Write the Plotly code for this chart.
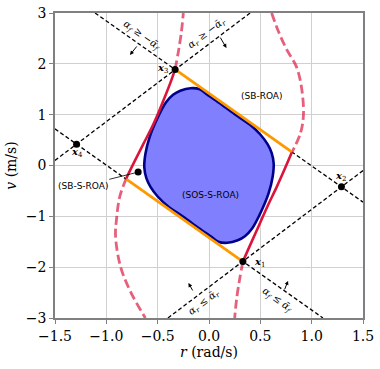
import plotly.graph_objects as go

# corner points x1..x4
pts_r = [0.33, 1.29, -0.33, -1.29]
pts_v = [-1.89, -0.42, 1.89, 0.42]
pts_lbl = ['1', '2', '3', '4']

# dashed constraint lines (end points at plot edges)
lines_r = [[-1.11, 1.5], [-1.5, 1.11], [-1.5, 0.40], [-0.40, 1.5]]
lines_v = [[3.0, -0.72], [0.72, -3.0], [0.10, 3.0], [-3.0, -0.10]]

# SB-ROA (orange edges)
orange_r = [[-0.33, 0.805], [-0.805, 0.33]]
orange_v = [[1.89, 0.27], [-0.27, -1.89]]

# crimson boundary, solid parts
right_solid_r = [0.805, 0.735, 0.66, 0.57, 0.46, 0.38, 0.33]
right_solid_v = [0.25, -0.08, -0.42, -0.80, -1.30, -1.66, -1.89]
left_solid_r = [-0.33, -0.37, -0.44, -0.54, -0.64, -0.73, -0.805]
left_solid_v = [1.89, 1.66, 1.30, 0.82, 0.42, 0.06, -0.25]

# crimson boundary, dashed parts
right_up_r = [0.61, 0.68, 0.76, 0.85, 0.90, 0.92, 0.89, 0.805]
right_up_v = [3.0, 2.62, 2.27, 1.95, 1.55, 1.0, 0.63, 0.25]
right_dn_r = [0.33, 0.30, 0.27, 0.25]
right_dn_v = [-1.89, -2.22, -2.61, -3.0]
left_dn_r = [-0.805, -0.87, -0.90, -0.91, -0.86, -0.76, -0.62]
left_dn_v = [-0.25, -0.62, -1.04, -1.40, -2.00, -2.50, -3.0]
left_up_r = [-0.33, -0.30, -0.27, -0.25]
left_up_v = [1.89, 2.22, 2.61, 3.0]

# SOS-S-ROA boundary
blue_r = [-0.18, -0.09, -0.02, 0.10, 0.25, 0.40, 0.50, 0.57, 0.61, 0.63, 0.62, 0.58, 0.50,
          0.42, 0.35, 0.28, 0.18, 0.09, 0.02, -0.10, -0.25, -0.40, -0.50, -0.57, -0.61,
          -0.63, -0.62, -0.58, -0.50, -0.42, -0.35, -0.28, -0.18]
blue_v = [1.52, 1.50, 1.40, 1.23, 1.01, 0.80, 0.61, 0.42, 0.25, 0.04, -0.22, -0.55, -0.94,
          -1.24, -1.39, -1.47, -1.52, -1.50, -1.40, -1.23, -1.01, -0.80, -0.61, -0.42, -0.25,
          -0.04, 0.22, 0.55, 0.94, 1.24, 1.39, 1.47, 1.52]

sbs_pt = (-0.69, -0.13)

CRIMSON = '#DC143C'
PINK = 'rgba(220,20,60,0.68)'
ORANGE = '#FF9900'

fig = go.Figure()

for lr, lv in zip(lines_r, lines_v):
    fig.add_trace(go.Scatter(x=lr, y=lv, mode='lines',
                             line=dict(color='black', width=1.3, dash='4px,2.5px')))

for cr, cv in [(right_up_r, right_up_v), (right_dn_r, right_dn_v),
               (left_dn_r, left_dn_v), (left_up_r, left_up_v)]:
    fig.add_trace(go.Scatter(x=cr, y=cv, mode='lines',
                             line=dict(color=PINK, width=2.8, dash='9px,4px', shape='spline')))

fig.add_trace(go.Scatter(x=blue_r, y=blue_v, mode='lines', fill='toself',
                         fillcolor='#8080FF',
                         line=dict(color='#00008B', width=2.6, shape='spline', smoothing=0.9)))

for orr, ov in zip(orange_r, orange_v):
    fig.add_trace(go.Scatter(x=orr, y=ov, mode='lines',
                             line=dict(color=ORANGE, width=2.8)))

for cr, cv in [(right_solid_r, right_solid_v), (left_solid_r, left_solid_v)]:
    fig.add_trace(go.Scatter(x=cr, y=cv, mode='lines',
                             line=dict(color=CRIMSON, width=2.6, shape='spline')))

fig.add_trace(go.Scatter(x=pts_r + [sbs_pt[0]], y=pts_v + [sbs_pt[1]], mode='markers',
                         marker=dict(color='black', size=7)))

serif = 'DejaVu Serif'
sans = 'DejaVu Sans'

# point labels
lbl_pos = [(0.49, -1.90), (1.285, -0.22), (-0.45, 1.90), (-1.285, 0.25)]
for (lx, ly), n in zip(lbl_pos, pts_lbl):
    fig.add_annotation(x=lx, y=ly, text='<b><i>x</i></b><sub>' + n + '</sub>',
                       showarrow=False, font=dict(family=serif, size=10, color='black'))

# region labels
fig.add_annotation(x=0.52, y=1.37, text='(SB-ROA)', showarrow=False,
                   font=dict(family=sans, size=9, color='black'))
fig.add_annotation(x=0.01, y=-0.58, text='(SOS-S-ROA)', showarrow=False,
                   font=dict(family=sans, size=9, color='black'))
fig.add_annotation(x=sbs_pt[0], y=sbs_pt[1], ax=-1.225, ay=-0.40, axref='x', ayref='y',
                   text='(SB-S-ROA)', showarrow=True, arrowhead=0, arrowwidth=0.8,
                   arrowcolor='black', standoff=0,
                   font=dict(family=sans, size=9, color='black'))

# constraint labels
cons = [
    (-0.66, 2.55, 35.5, '<i>α<sub>f</sub></i> ≥ −<i>ᾱ<sub>f</sub></i>'),
    (-0.02, 2.59, -37, '<i>α<sub>r</sub></i> ≥ −<i>ᾱ<sub>r</sub></i>'),
    (-0.05, -2.69, -37, '<i>α<sub>r</sub></i> ≤ <i>ᾱ<sub>r</sub></i>'),
    (0.67, -2.65, 35.5, '<i>α<sub>f</sub></i> ≤ <i>ᾱ<sub>f</sub></i>'),
]
for cx, cy, ang, t in cons:
    fig.add_annotation(x=cx, y=cy, text=t, textangle=ang, showarrow=False,
                       font=dict(family=serif, size=10, color='black'))

arrows = [(-0.77, 2.175, 8, -10), (0.17, 2.31, -7, -12), (-0.20, -2.31, 5, 9), (0.77, -2.27, -4, 10)]
for hx, hy, ox, oy in arrows:
    fig.add_annotation(x=hx, y=hy, ax=ox, ay=oy, text='', showarrow=True,
                       arrowhead=2, arrowsize=0.8, arrowwidth=1, arrowcolor='black')

axis_common = dict(showgrid=True, gridcolor='#d0d0d0', gridwidth=1, zeroline=False,
                   showline=True, mirror=True, linecolor='#808080', linewidth=1.5,
                   ticks='outside', ticklen=4, tickcolor='#808080', automargin=False,
                   ticklabeloverflow='allow',
                   tickfont=dict(family=serif, size=14, color='black'))

fig.update_layout(
    width=380, height=369,
    margin=dict(l=55, r=17, t=13, b=51),
    paper_bgcolor='white', plot_bgcolor='white',
    showlegend=False,
    xaxis=dict(range=[-1.5, 1.5], tickvals=[-1.5, -1.0, -0.5, 0.0, 0.5, 1.0, 1.5],
               ticktext=['−1.5', '−1.0', '−0.5', '0.0', '0.5', '1.0', '1.5'],
               title=dict(text='<i>r</i> (rad/s)', font=dict(family=serif, size=14, color='black'),
                          standoff=3),
               **axis_common),
    yaxis=dict(range=[-3, 3], tickvals=[-3, -2, -1, 0, 1, 2, 3],
               ticktext=['−3', '−2', '−1', '0', '1', '2', '3'],
               title=dict(text='<i>v</i> (m/s)', font=dict(family=serif, size=14, color='black'),
                          standoff=6),
               **axis_common),
)

# drop the default page margin so the figure sits at the window corner
fig.write_html('out.html', config={'displayModeBar': False},
               post_script="document.body.style.margin='0';")
